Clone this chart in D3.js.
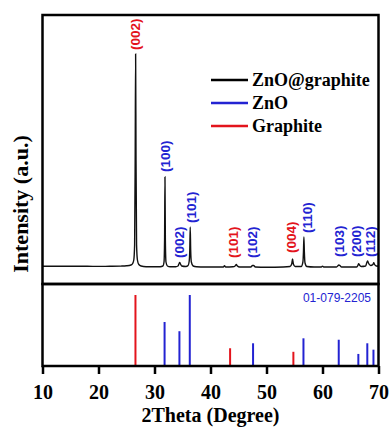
<!DOCTYPE html>
<html><head><meta charset="utf-8">
<script src="https://cdn.jsdelivr.net/npm/d3@7"></script>
<style>html,body{margin:0;padding:0;background:#fff;}svg{display:block;}
.serif{font-family:"Liberation Serif","Times New Roman","DejaVu Serif",serif;font-weight:bold;}
.sans{font-family:"Liberation Sans",Arial,sans-serif;}
</style>
</head><body>
<svg id="c" width="390" height="428"></svg>
<script>
// ---- data ----
const xTicks = [10, 20, 30, 40, 50, 60, 70];
const patternTheta = [10,12,15,18,20,22,24,25,25.8,26.1,26.3,26.45,26.55,26.63,26.7,26.8,26.95,27.2,27.6,28.5,30,31,31.5,31.7,31.8,31.87,31.94,32.05,32.3,32.8,33.8,34.2,34.4,34.5,34.6,34.85,35.6,36.0,36.2,36.3,36.38,36.46,36.58,36.9,37.5,39,41,42.3,42.5,42.7,44,44.4,44.6,44.8,45.2,47.2,47.5,47.7,48,50,53,54.2,54.5,54.65,54.8,55.1,56.2,56.5,56.6,56.68,56.76,56.88,57.2,58.5,59.8,60,60.2,62.5,62.8,62.9,63.1,63.4,66.1,66.35,66.45,66.6,66.9,67.7,67.95,68.07,68.2,68.6,69.0,69.15,69.3,69.6,70];
const patternInt = [3.8,3.8,3.7,3.7,3.6,3.7,3.9,4.2,5,6.5,10,25,110,216,110,25,10,5.5,4,3.3,3.2,3.3,4,8,30,93,30,8,4,3.2,3.3,4,6.5,7.5,6.5,4,3.5,4.5,9,20,43,20,8,4,3.2,3,3,3,4.3,3,3.2,4,5.5,4,3,3,4.5,4.5,3,2.8,3,3.5,6,11,6,3.5,3.5,8,18,33,18,7,3.5,3,3,3.8,3,3,4.5,5,4.5,3,3,5,6.3,5,3.5,4,8,9,7,4.5,5.5,7.3,5.5,4,3.8];
const graphiteTheta = [26.6, 43.5, 54.8];
const graphiteRel = [100, 25, 20];
const znoTheta = [31.8, 34.45, 36.3, 47.6, 56.6, 62.9, 66.4, 68.0, 69.1];
const znoRel = [62, 49, 100, 32, 39, 37, 17, 32, 23];
const labelText = ["(002)","(100)","(002)","(101)","(101)","(102)","(004)","(110)","(103)","(200)","(112)"];
const labelPhase = ["g","z","z","z","g","z","g","z","z","z","z"];
const labelTheta = [26.6, 31.9, 34.4, 36.6, 44.0, 47.5, 54.5, 57.2, 63.0, 66.1, 68.6];
const labelBase = [220, 98, 12, 47, 12, 12, 17, 37, 13, 13, 13];
const legendNames = ["ZnO@graphite", "ZnO", "Graphite"];
const cardText = "01-079-2205";

// ---- styles ----
const BLUE = "#2323d2", RED = "#e3141c";
const phaseColor = p => p === "g" ? RED : BLUE;
const legendColors = ["#000", BLUE, RED];

const svg = d3.select("#c");
const L = 42.5, R = 378.5, T = 15, MID = 284, B = 366;

const x = d3.scaleLinear().domain([10, 70]).range([L, R]);
const yTop = d3.scaleLinear().domain([0, 255]).range([270, 15]);
const yBot = d3.scaleLinear().domain([0, 100]).range([B, 295]);

// pattern
const pts = patternTheta.map((t, i) => [t, patternInt[i]]);
svg.append("path")
  .attr("d", d3.line().x(d => x(d[0])).y(d => yTop(d[1])).curve(d3.curveMonotoneX)(pts))
  .attr("fill", "none").attr("stroke", "#111").attr("stroke-width", 1.4);

// labels
labelText.forEach((s, i) => {
  const px = x(labelTheta[i]), py = yTop(labelBase[i]);
  svg.append("text").attr("class", "sans")
    .attr("transform", `translate(${px},${py}) rotate(-90)`)
    .attr("dy", "0.35em")
    .attr("text-anchor", "start")
    .attr("font-weight", "bold").attr("font-size", 13.5)
    .attr("fill", phaseColor(labelPhase[i]))
    .text(s);
});

// sticks
const sticks = graphiteTheta.map((t, i) => ({t, v: graphiteRel[i], c: RED}))
  .concat(znoTheta.map((t, i) => ({t, v: znoRel[i], c: BLUE})));
svg.selectAll("line.stick").data(sticks).enter().append("line")
  .attr("class", "stick")
  .attr("x1", d => x(d.t)).attr("x2", d => x(d.t))
  .attr("y1", yBot(0)).attr("y2", d => yBot(d.v))
  .attr("stroke", d => d.c).attr("stroke-width", 2);

svg.append("text").attr("class", "sans").attr("x", 371).attr("y", 302).attr("text-anchor", "end")
  .attr("font-size", 12).attr("fill", BLUE).text(cardText);

// frames
svg.append("rect").attr("x", L).attr("y", T).attr("width", R - L).attr("height", MID - T)
  .attr("fill", "none").attr("stroke", "#000").attr("stroke-width", 2.5);
svg.append("rect").attr("x", L).attr("y", MID).attr("width", R - L).attr("height", B - MID)
  .attr("fill", "none").attr("stroke", "#000").attr("stroke-width", 2.5);

// x axis
const ax = svg.append("g").attr("transform", `translate(0,${B})`)
  .call(d3.axisBottom(x).tickValues(xTicks).tickSize(8).tickSizeOuter(0).tickPadding(11));
ax.attr("font-family", null).attr("font-size", null);
ax.select(".domain").remove();
ax.selectAll(".tick line").attr("stroke", "#000").attr("stroke-width", 2.5);
ax.selectAll(".tick text").attr("class", "serif")
  .style("font-size", "20px").attr("fill", "#000");

svg.append("text").attr("class", "serif").attr("x", (L + R) / 2).attr("y", 422).attr("text-anchor", "middle")
  .style("font-size", "20px").text("2Theta (Degree)");

svg.append("text").attr("class", "serif").attr("transform", "translate(28,204) rotate(-90)").attr("text-anchor", "middle")
  .style("font-size", "22px").text("Intensity (a.u.)");

// legend
legendNames.forEach((n, i) => {
  const ly = 80 + i * 23;
  svg.append("line").attr("x1", 211).attr("x2", 248).attr("y1", ly).attr("y2", ly)
    .attr("stroke", legendColors[i]).attr("stroke-width", 2.5);
  svg.append("text").attr("class", "serif").attr("x", 252).attr("y", ly + 6)
    .style("font-size", "18px").text(n);
});
</script>
</body></html>
